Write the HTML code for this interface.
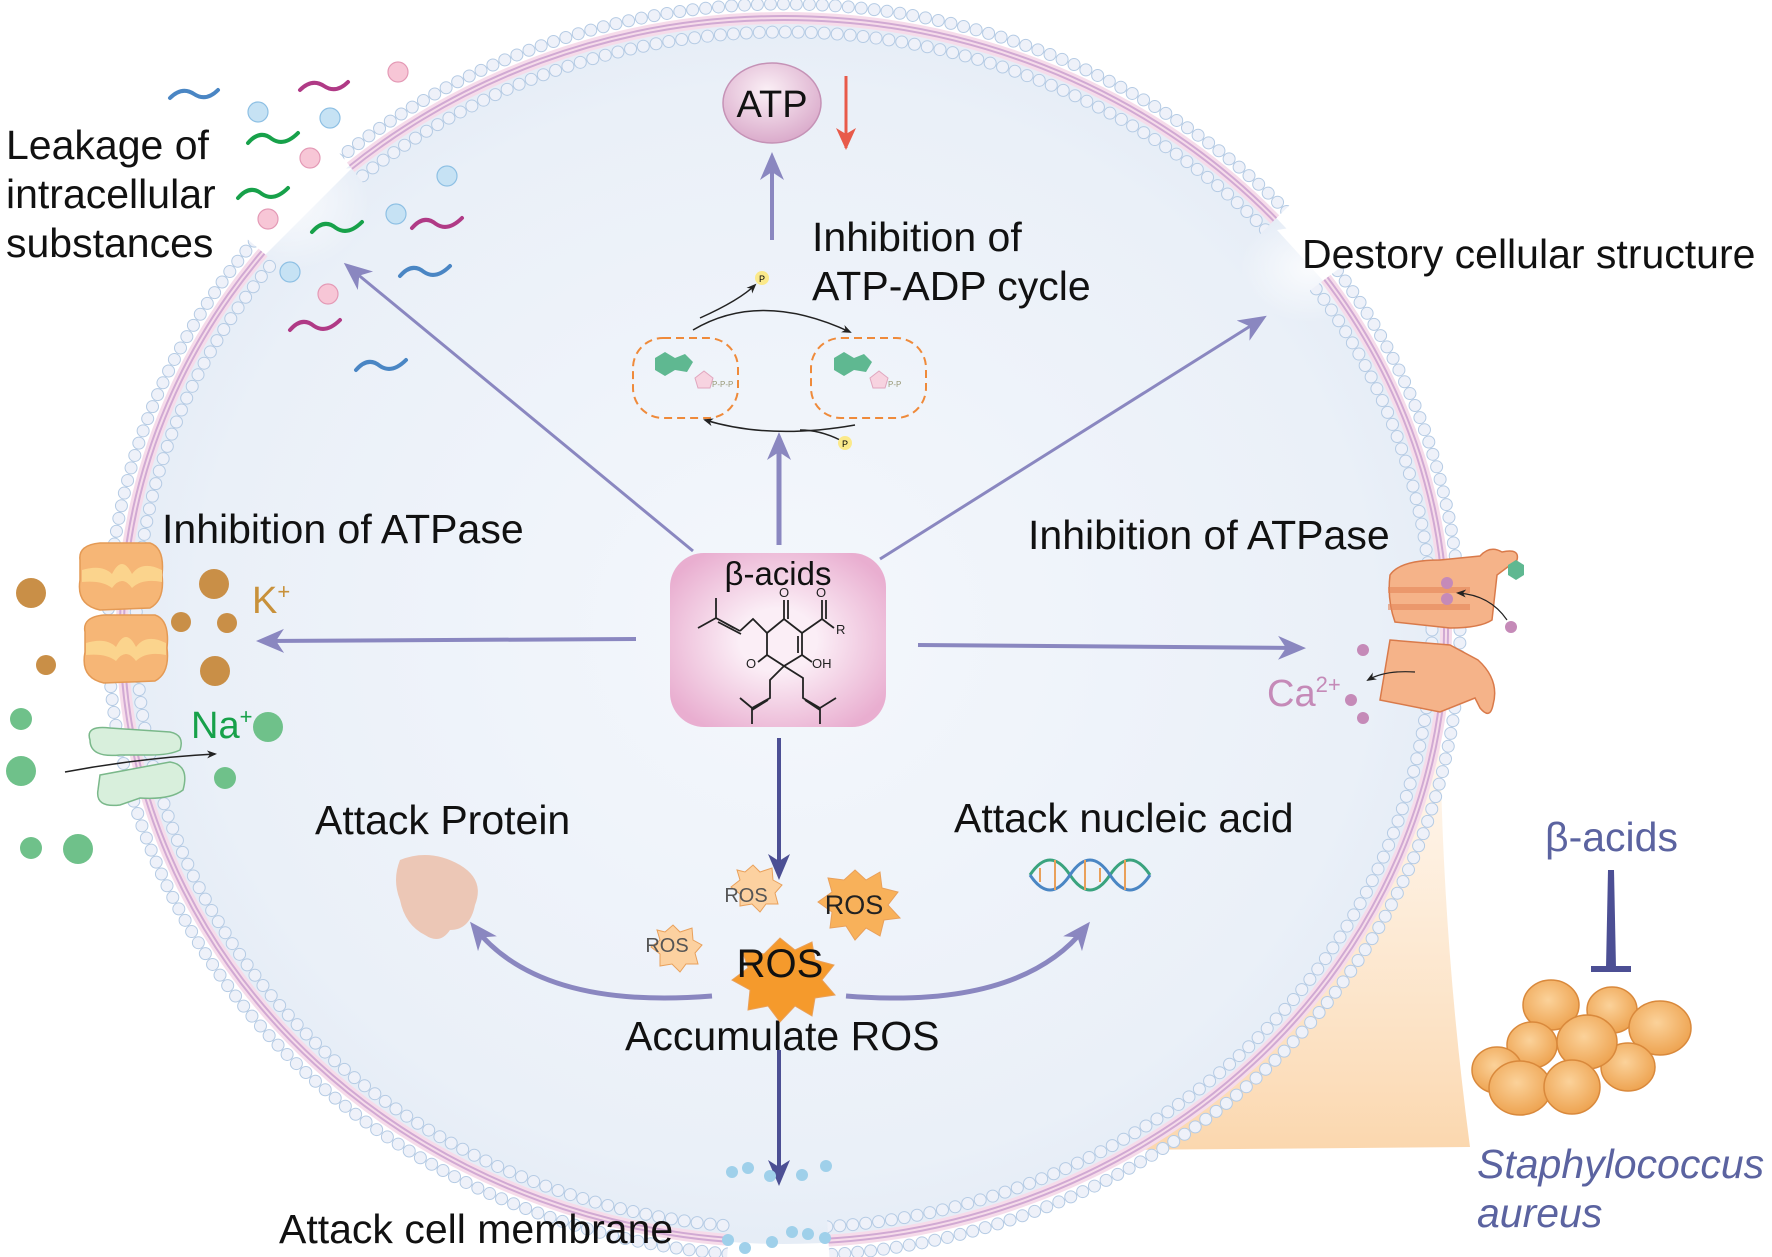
<!DOCTYPE html>
<html><head><meta charset="utf-8"><style>
html,body{margin:0;padding:0;background:#fff}
svg{display:block}
text{font-family:"Liberation Sans",Arial,sans-serif}
</style></head><body>
<svg width="1772" height="1257" viewBox="0 0 1772 1257" xmlns="http://www.w3.org/2000/svg">
<defs>
<radialGradient id="cell" cx="0.5" cy="0.5" r="0.55">
<stop offset="0" stop-color="#f4f7fc"/><stop offset="0.8" stop-color="#eaf0f8"/><stop offset="1" stop-color="#e2eaf5"/>
</radialGradient>
<linearGradient id="wedge" x1="0" y1="0" x2="0" y2="1">
<stop offset="0" stop-color="#fde9d2" stop-opacity="0.3"/><stop offset="1" stop-color="#fbd7ae"/>
</linearGradient>
<radialGradient id="box" cx="0.5" cy="0.5" r="0.6">
<stop offset="0.3" stop-color="#fbeef6"/><stop offset="1" stop-color="#e9aed0"/>
</radialGradient>
<radialGradient id="atp" cx="0.45" cy="0.35" r="0.7">
<stop offset="0" stop-color="#fbf0f6"/><stop offset="1" stop-color="#d8a6c8"/>
</radialGradient>
<radialGradient id="coc" cx="0.45" cy="0.4" r="0.6">
<stop offset="0" stop-color="#fbd29a"/><stop offset="1" stop-color="#eea452"/>
</radialGradient>
<radialGradient id="fog">
<stop offset="0" stop-color="#fff" stop-opacity="0.8"/><stop offset="1" stop-color="#fff" stop-opacity="0"/>
</radialGradient>
<mask id="mem">
<path d="M1446 630 A662 612 0 1 1 122 630 A662 612 0 1 1 1446 630" pathLength="360" fill="none" stroke="#fff" stroke-width="70" stroke-dasharray="86 9 122 11 91 7 34 0"/>
</mask>
<marker id="ahd" markerWidth="26" markerHeight="26" refX="18" refY="13" orient="auto" markerUnits="userSpaceOnUse" viewBox="0 0 26 26">
<path d="M0 2 L26 13 L0 24 L7 13Z" fill="#4c4f94"/></marker>
<marker id="ahl" markerWidth="28" markerHeight="28" refX="20" refY="14" orient="auto" markerUnits="userSpaceOnUse" viewBox="0 0 28 28">
<path d="M0 2 L28 14 L0 26 L8 14Z" fill="#8a87c0"/></marker>
<marker id="ahs" markerWidth="10" markerHeight="10" refX="8" refY="5" orient="auto" markerUnits="userSpaceOnUse" viewBox="0 0 10 10">
<path d="M0 1 L10 5 L0 9 L3 5Z" fill="#222"/></marker>
</defs>

<path d="M1440 700 Q1440 920 1470 1147 L1120 1150 Z" fill="url(#wedge)"/>

<ellipse cx="784" cy="630" rx="664" ry="614" fill="url(#cell)"/>
<polygon points="262,258 352,168 330,170 300,190 275,215 255,250" fill="#fff"/>
<polygon points="1277,230 1347,307 1350,300 1320,255 1290,228" fill="#fff"/>
<ellipse cx="290" cy="200" rx="80" ry="70" fill="url(#fog)"/>
<ellipse cx="1310" cy="268" rx="70" ry="55" fill="url(#fog)"/>

<g mask="url(#mem)" fill="none">
<ellipse cx="784" cy="630" rx="676" ry="626" stroke="#b5cbe4" stroke-width="13" stroke-dasharray="0 13" stroke-linecap="round"/>
<ellipse cx="784" cy="630" rx="676" ry="626" stroke="#eef1f9" stroke-width="11" stroke-dasharray="0 13" stroke-linecap="round"/>
<ellipse cx="784" cy="630" rx="662" ry="612" stroke="#f6dcea" stroke-width="12"/>
<ellipse cx="784" cy="630" rx="664" ry="614" stroke="#d1a9d3" stroke-width="2"/>
<ellipse cx="784" cy="630" rx="660" ry="610" stroke="#d1a9d3" stroke-width="2"/>
<ellipse cx="784" cy="630" rx="648" ry="598" stroke="#b5cbe4" stroke-width="13" stroke-dasharray="0 13" stroke-linecap="round"/>
<ellipse cx="784" cy="630" rx="648" ry="598" stroke="#eef1f9" stroke-width="11" stroke-dasharray="0 13" stroke-linecap="round"/>
</g>

<g fill="none" stroke-width="4" stroke-linecap="round">
<path d="M170 98 q12 -12 24 -4 q12 8 24 -4" stroke="#4a86c4"/>
<path d="M300 90 q12 -12 24 -4 q12 8 24 -4" stroke="#b03a86"/>
<path d="M248 143 q12 -14 24 -4 q12 8 26 -6" stroke="#17a14a"/>
<path d="M238 198 q12 -14 24 -4 q12 8 26 -6" stroke="#17a14a"/>
<path d="M312 232 q12 -14 24 -4 q12 8 26 -6" stroke="#17a14a"/>
<path d="M412 228 q12 -14 24 -4 q12 8 26 -6" stroke="#b03a86"/>
<path d="M400 276 q12 -14 24 -4 q12 8 26 -6" stroke="#4a86c4"/>
<path d="M290 330 q12 -14 24 -4 q12 8 26 -6" stroke="#b03a86"/>
<path d="M356 370 q12 -14 24 -4 q12 8 26 -6" stroke="#4a86c4"/>
</g>
<g stroke-width="1.2">
<circle cx="398" cy="72" r="10" fill="#f7c6d6" stroke="#e49ab6"/>
<circle cx="258" cy="112" r="10" fill="#c6e2f4" stroke="#8ec0e4"/>
<circle cx="330" cy="118" r="10" fill="#c6e2f4" stroke="#8ec0e4"/>
<circle cx="310" cy="158" r="10" fill="#f7c6d6" stroke="#e49ab6"/>
<circle cx="447" cy="176" r="10" fill="#c6e2f4" stroke="#8ec0e4"/>
<circle cx="268" cy="219" r="10" fill="#f7c6d6" stroke="#e49ab6"/>
<circle cx="396" cy="214" r="10" fill="#c6e2f4" stroke="#8ec0e4"/>
<circle cx="290" cy="272" r="10" fill="#c6e2f4" stroke="#8ec0e4"/>
<circle cx="328" cy="294" r="10" fill="#f7c6d6" stroke="#e49ab6"/>
</g>

<g font-size="41" fill="#111">
<text x="6" y="159">Leakage of</text>
<text x="6" y="208">intracellular</text>
<text x="6" y="257">substances</text>
<text x="812" y="251">Inhibition of</text>
<text x="812" y="300">ATP-ADP cycle</text>
<text x="1302" y="268">Destory cellular structure</text>
<text x="162" y="543">Inhibition of ATPase</text>
<text x="1028" y="549">Inhibition of ATPase</text>
<text x="315" y="834">Attack Protein</text>
<text x="954" y="832">Attack nucleic acid</text>
<text x="625" y="1050">Accumulate ROS</text>
<text x="279" y="1243">Attack cell membrane</text>
</g>
<text x="252" y="613" font-size="38" fill="#c8913a">K<tspan font-size="22" dy="-14">+</tspan></text>
<text x="191" y="738" font-size="38" fill="#17a14a">Na<tspan font-size="22" dy="-14">+</tspan></text>
<text x="1267" y="706" font-size="38" fill="#c58ab8">Ca<tspan font-size="22" dy="-14">2+</tspan></text>
<text x="1545" y="851" font-size="41" fill="#5b63a0">β-acids</text>
<text x="1477" y="1178" font-size="41" font-style="italic" fill="#5b63a0">Staphylococcus</text>
<text x="1477" y="1227" font-size="41" font-style="italic" fill="#5b63a0">aureus</text>

<ellipse cx="772" cy="103" rx="49" ry="40" fill="url(#atp)" stroke="#c592b6" stroke-width="1.5"/>
<text x="772" y="117" font-size="38" text-anchor="middle" fill="#111">ATP</text>
<line x1="846" y1="76" x2="846" y2="148" stroke="#e85a4a" stroke-width="3"/>
<path d="M836 128 L846 150 L856 128 L846 134Z" fill="#e85a4a"/>

<g stroke="#8a87c0" fill="none">
<line x1="772" y1="240" x2="772" y2="160" stroke-width="4" marker-end="url(#ahl)"/>
<line x1="779" y1="545" x2="779" y2="440" stroke-width="5" marker-end="url(#ahl)"/>
<line x1="693" y1="551" x2="350" y2="268" stroke-width="3" marker-end="url(#ahl)"/>
<line x1="880" y1="559" x2="1260" y2="320" stroke-width="3" marker-end="url(#ahl)"/>
<line x1="636" y1="639" x2="264" y2="641" stroke-width="4" marker-end="url(#ahl)"/>
<line x1="918" y1="645" x2="1298" y2="648" stroke-width="4" marker-end="url(#ahl)"/>
<path d="M712 996 Q540 1010 475 928" stroke-width="5" marker-end="url(#ahl)"/>
<path d="M846 996 Q1020 1010 1085 928" stroke-width="5" marker-end="url(#ahl)"/>
</g>
<g stroke="#4c4f94" fill="none">
<line x1="779" y1="738" x2="779" y2="872" stroke-width="4" marker-end="url(#ahd)"/>
<line x1="779" y1="1050" x2="779" y2="1178" stroke-width="4" marker-end="url(#ahd)"/>
</g>

<rect x="670" y="553" width="216" height="174" rx="34" fill="url(#box)"/>
<text x="778" y="585" font-size="33" text-anchor="middle" fill="#111">β-acids</text>
<g stroke="#222" stroke-width="1.8" fill="none">
<path d="M698 628 L716 618 L734 628 M716 618 L716 598 M716 618 L740 631 M718 622 L741 634"/>
<path d="M740 631 L753 619 L767 633 L784 619 L802 633 L802 655 L784 666 L767 655 L767 633"/>
<path d="M784 619 L784 600 M788 619 L788 600"/>
<path d="M802 633 L822 619 L834 628 M822 619 L822 600 M826 619 L826 600"/>
<path d="M798 636 L798 653"/>
<path d="M802 655 L812 662"/>
<path d="M767 655 L758 662"/>
<path d="M784 666 L803 678 L803 698 L820 708 L836 698 M820 708 L820 724 M805 700 L820 710"/>
<path d="M784 666 L770 680 L770 698 L752 708 L740 698 M752 708 L752 724 M768 700 L752 710"/>
</g>
<text x="779" y="597" font-size="13" fill="#222">O</text><text x="816" y="597" font-size="13" fill="#222">O</text>
<text x="836" y="634" font-size="13" fill="#222">R</text><text x="812" y="668" font-size="13" fill="#222">OH</text>
<text x="746" y="668" font-size="13" fill="#222">O</text>

<rect x="633" y="338" width="105" height="80" rx="30" fill="none" stroke="#ef8a3a" stroke-width="2" stroke-dasharray="8 5"/>
<rect x="811" y="338" width="115" height="80" rx="30" fill="none" stroke="#ef8a3a" stroke-width="2" stroke-dasharray="8 5"/>
<path d="M655 358 l10 -6 10 6 v12 l-10 6 -10 -6z M675 358 l10 -4 8 8 -6 10 -12 -2z" fill="#5fb891"/>
<path d="M695 378 l9 -7 9 7 -3 10 h-12z" fill="#f7d3e0" stroke="#e0a6be"/>
<text x="712" y="387" font-size="8" fill="#997">P-P-P</text>
<path d="M834 358 l10 -6 10 6 v12 l-10 6 -10 -6z M854 358 l10 -4 8 8 -6 10 -12 -2z" fill="#5fb891"/>
<path d="M870 378 l9 -7 9 7 -3 10 h-12z" fill="#f7d3e0" stroke="#e0a6be"/>
<text x="888" y="387" font-size="8" fill="#997">P-P</text>
<path d="M693 330 Q760 290 850 332" stroke="#222" stroke-width="1.5" fill="none" marker-end="url(#ahs)"/>
<path d="M700 318 Q740 300 755 285" stroke="#222" stroke-width="1.5" fill="none" marker-end="url(#ahs)"/>
<path d="M855 425 Q770 440 705 420" stroke="#222" stroke-width="1.5" fill="none" marker-end="url(#ahs)"/>
<path d="M840 440 Q820 430 800 430" stroke="#222" stroke-width="1.5" fill="none"/>
<circle cx="762" cy="278" r="7" fill="#fbe98a"/><text x="762" y="282" font-size="9" text-anchor="middle">P</text>
<circle cx="845" cy="443" r="7" fill="#fbe98a"/><text x="845" y="447" font-size="9" text-anchor="middle">P</text>

<g fill="#f6b676" stroke="#e49a55" stroke-width="1.5">
<path d="M80 560 Q78 545 100 543 L150 543 Q165 548 162 575 Q165 600 150 608 L100 610 Q76 605 80 580Z"/>
<path d="M85 632 Q82 617 104 615 L155 615 Q170 620 167 648 Q170 673 155 681 L104 683 Q80 678 85 652Z"/>
</g>
<path d="M82 570 q20 -6 30 4 q10 -20 20 0 q10 -14 30 -4 v12 q-20 -4 -30 6 q-10 -14 -20 0 q-10 -8 -30 -6z" fill="#fbd48d"/>
<path d="M86 643 q20 -6 30 4 q10 -20 20 0 q10 -14 30 -4 v12 q-20 -4 -30 6 q-10 -14 -20 0 q-10 -8 -30 -6z" fill="#fbd48d"/>
<g fill="#c98f47">
<circle cx="31" cy="593" r="15"/><circle cx="46" cy="665" r="10"/>
<circle cx="214" cy="584" r="15"/><circle cx="181" cy="622" r="10"/><circle cx="227" cy="623" r="10"/><circle cx="215" cy="671" r="15"/>
</g>
<path d="M90 740 Q85 725 110 728 L170 732 Q185 735 180 750 Q170 755 150 755 L120 755 Q90 758 90 740Z M100 775 L170 762 Q190 765 183 790 Q170 800 140 798 L120 805 Q95 808 98 790Z" fill="#d8efdc" stroke="#7ab88a" stroke-width="1.5"/>
<path d="M65 772 Q140 758 215 754" stroke="#222" stroke-width="1.5" fill="none" marker-end="url(#ahs)"/>
<g fill="#6fc18a">
<circle cx="21" cy="719" r="11"/><circle cx="21" cy="771" r="15"/><circle cx="31" cy="848" r="11"/><circle cx="78" cy="849" r="15"/>
<circle cx="268" cy="727" r="15"/><circle cx="225" cy="778" r="11"/>
</g>

<g fill="#f5b389" stroke="#d97a4a" stroke-width="1.5">
<path d="M1390 575 Q1400 560 1440 560 L1480 556 Q1490 545 1502 552 Q1520 548 1517 560 L1497 575 L1492 620 Q1480 628 1450 628 L1395 622 Q1387 600 1390 575Z"/>
<path d="M1390 640 L1450 645 L1478 660 Q1500 680 1493 705 Q1490 720 1480 708 L1475 698 L1440 712 L1380 700 Z"/>
</g>
<path d="M1388 590 H1470 M1388 607 H1470" stroke="#e5875a" stroke-width="6" opacity="0.6"/>
<circle cx="1447" cy="583" r="6" fill="#c58ab8"/><circle cx="1447" cy="599" r="6" fill="#c58ab8"/>
<circle cx="1511" cy="627" r="6" fill="#c58ab8"/>
<circle cx="1363" cy="650" r="6" fill="#c58ab8"/><circle cx="1351" cy="700" r="6" fill="#c58ab8"/><circle cx="1363" cy="718" r="6" fill="#c58ab8"/>
<path d="M1507 620 Q1490 595 1458 593" stroke="#222" stroke-width="1.2" fill="none" marker-end="url(#ahs)"/>
<path d="M1415 672 Q1385 670 1368 680" stroke="#222" stroke-width="1.2" fill="none" marker-end="url(#ahs)"/>
<path d="M1508 565 l8 -5 8 5 v10 l-8 5 -8 -5z" fill="#5fb891"/>

<path d="M400 860 Q430 848 460 865 Q485 880 475 905 Q470 930 450 930 Q440 945 425 935 Q405 925 400 900 Q392 880 400 860Z" fill="#ecc7b6"/>
<g fill="none" stroke-width="3">
<path d="M1030 875 q20 -30 40 0 q20 30 40 0 q20 -30 40 0" stroke="#3aa37e"/>
<path d="M1030 875 q20 30 40 0 q20 -30 40 0 q20 30 40 0" stroke="#4a86c4"/>
<path d="M1040 868 v14 M1055 860 v30 M1085 860 v30 M1100 868 v14 M1125 860 v30" stroke="#e9a05a" stroke-width="2"/>
</g>

<g stroke="#e9a05a" stroke-width="1">
<polygon points="745,872 753,865 760,872 772,868 773,880 782,885 775,893 778,904 766,904 760,912 752,904 740,906 740,894 731,887 740,880 737,870" fill="#fcd1a0"/>
<polygon points="665,932 673,925 680,932 692,928 693,940 702,945 695,953 698,964 686,964 680,972 672,964 660,966 660,954 651,947 660,940 657,930" fill="#fcd1a0"/>
<polygon points="855,870 866,880 880,872 882,888 898,892 888,905 900,918 884,920 880,936 866,928 855,940 846,926 830,928 832,912 818,902 832,892 828,878 844,880" fill="#f8b15a"/>
<polygon points="780,938 795,950 812,942 815,960 834,965 822,980 835,995 815,998 812,1016 795,1006 780,1022 768,1006 748,1010 750,990 732,980 748,968 742,950 764,954" fill="#f59a2c"/>
</g>
<text x="746" y="902" font-size="20" text-anchor="middle" fill="#555">ROS</text>
<text x="667" y="952" font-size="20" text-anchor="middle" fill="#555">ROS</text>
<text x="854" y="914" font-size="27" text-anchor="middle" fill="#222">ROS</text>
<text x="780" y="977" font-size="40" text-anchor="middle" fill="#111">ROS</text>

<g fill="#9fd0ea">
<circle cx="732" cy="1172" r="6"/><circle cx="748" cy="1168" r="6"/><circle cx="770" cy="1176" r="6"/><circle cx="802" cy="1175" r="6"/><circle cx="826" cy="1166" r="6"/>
<circle cx="728" cy="1240" r="6"/><circle cx="745" cy="1248" r="6"/><circle cx="772" cy="1242" r="6"/><circle cx="792" cy="1232" r="6"/><circle cx="808" cy="1234" r="6"/><circle cx="825" cy="1238" r="6"/>
</g>

<path d="M1608 870 L1614 870 L1616 968 L1606 968Z" fill="#4c4f94"/>
<rect x="1591" y="966" width="40" height="6" fill="#4c4f94"/>

<g fill="url(#coc)" stroke="#d9893c" stroke-width="1.5" transform="translate(0,75)">
<ellipse cx="1551" cy="930" rx="28" ry="25"/><ellipse cx="1612" cy="935" rx="25" ry="23"/>
<ellipse cx="1660" cy="953" rx="31" ry="27"/><ellipse cx="1532" cy="970" rx="25" ry="23"/>
<ellipse cx="1497" cy="995" rx="25" ry="23"/><ellipse cx="1628" cy="992" rx="27" ry="24"/>
<ellipse cx="1587" cy="967" rx="30" ry="27"/>
<ellipse cx="1520" cy="1013" rx="31" ry="27"/><ellipse cx="1572" cy="1012" rx="28" ry="27"/>
</g>
</svg>
</body></html>
